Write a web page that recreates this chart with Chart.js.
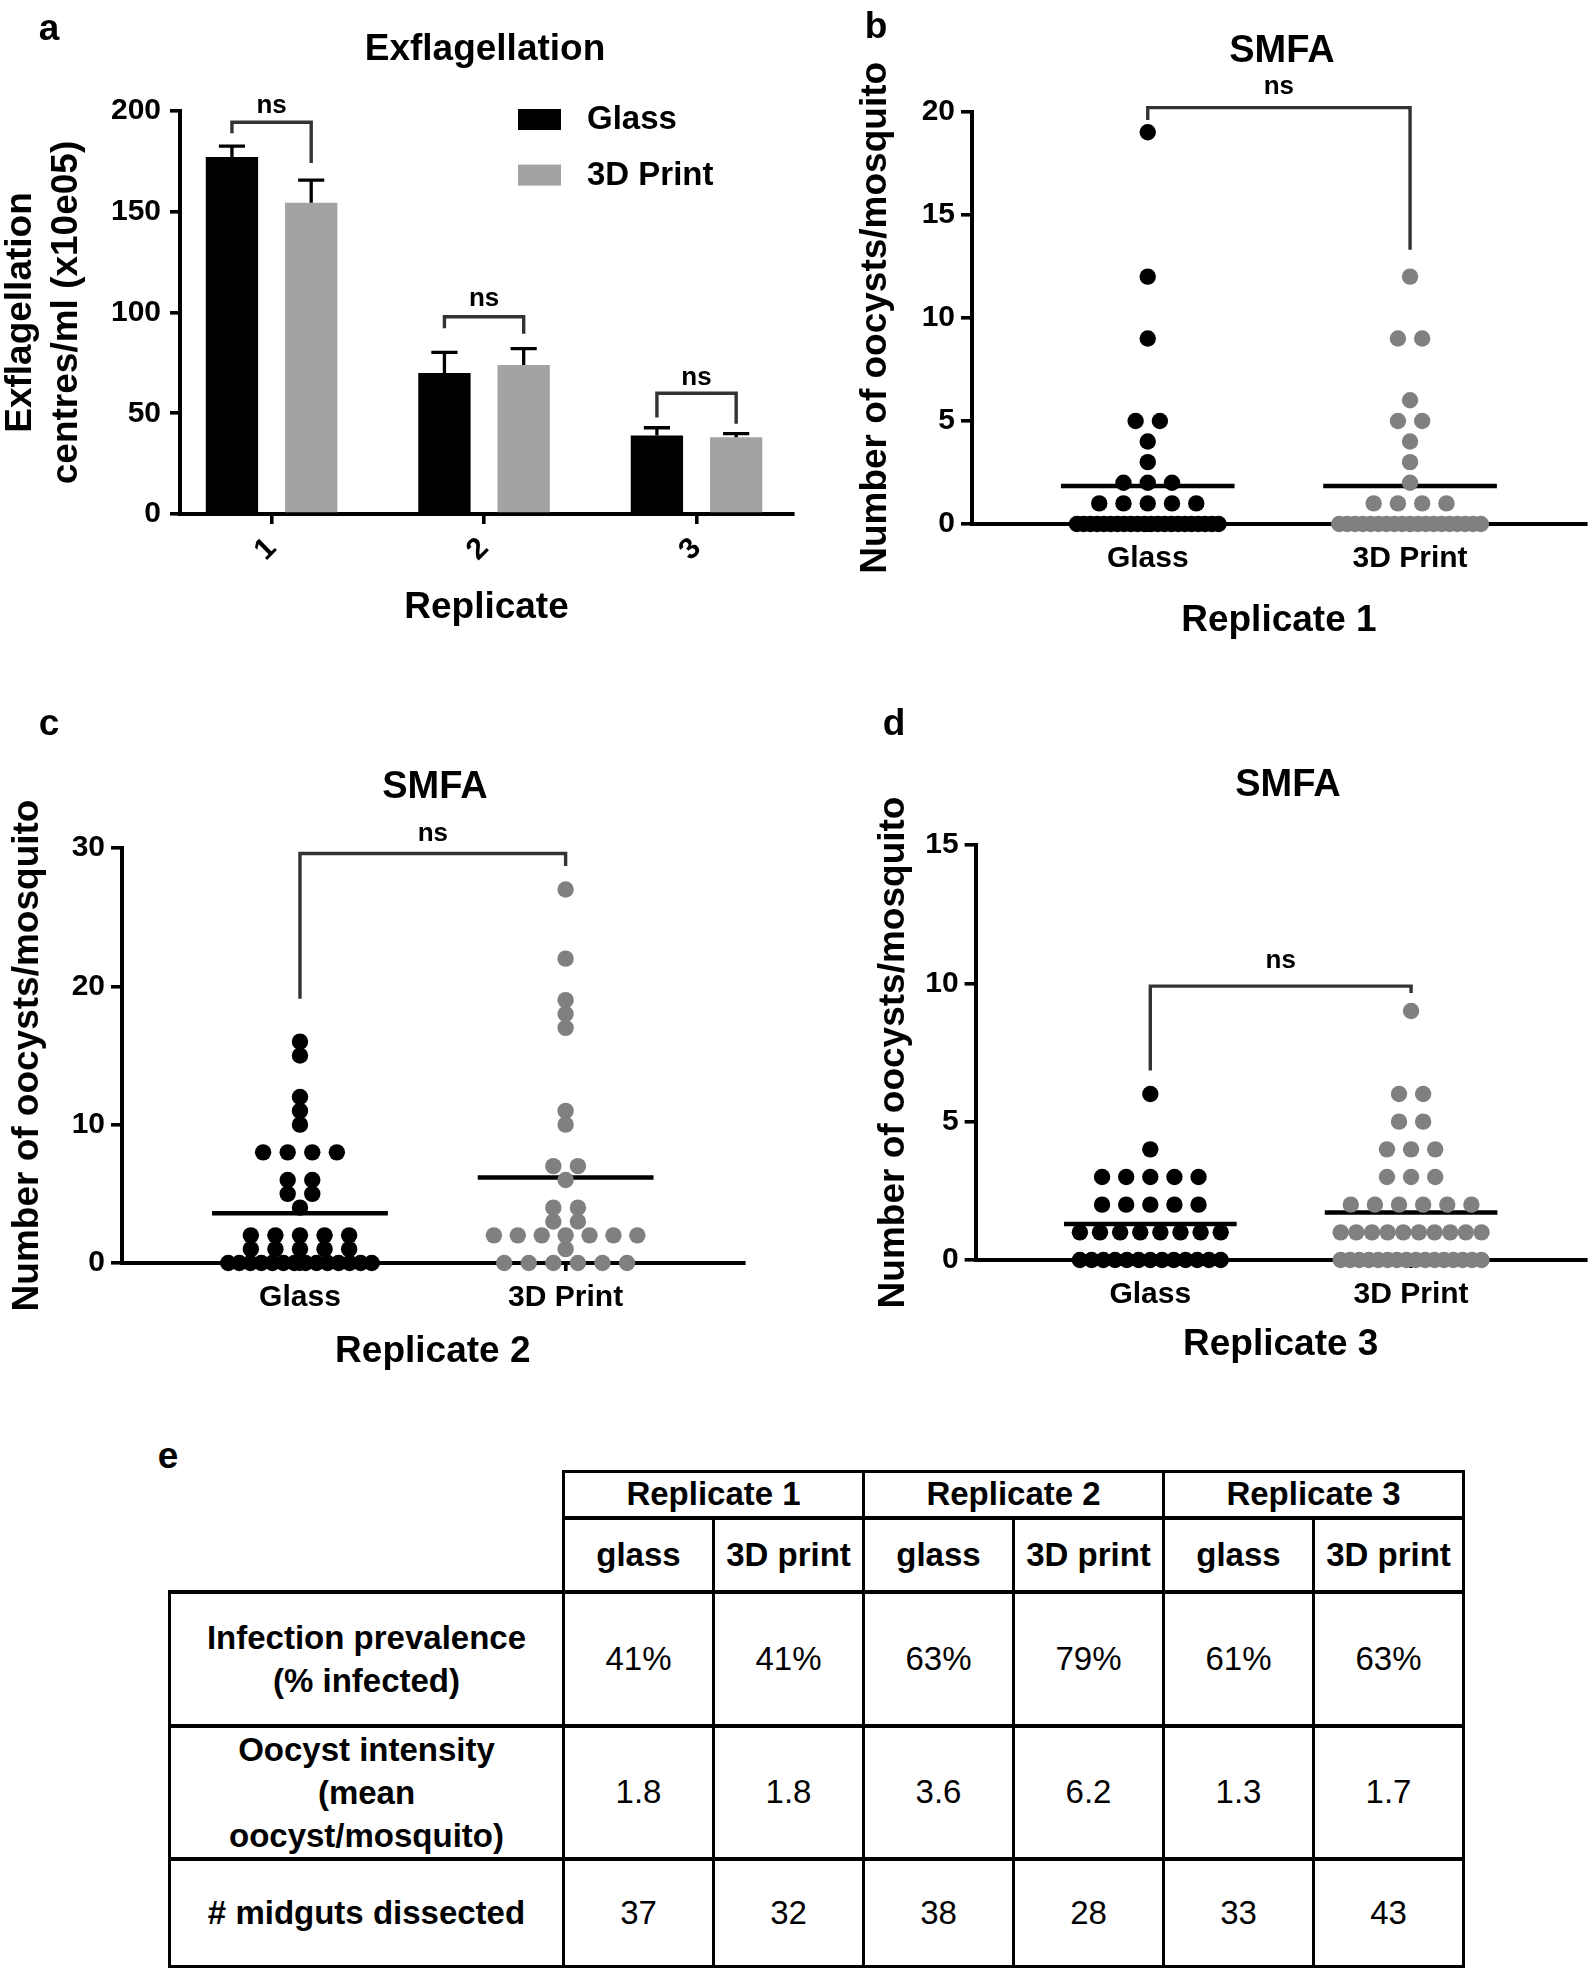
<!DOCTYPE html>
<html>
<head>
<meta charset="utf-8">
<script src="https://cdn.jsdelivr.net/npm/chart.js@4.4.1/dist/chart.umd.min.js"></script>
<style>
  body { margin: 0; background: #fff; width: 1594px; height: 1970px; position: relative; overflow: hidden;
         font-family: "Liberation Sans", Arial, Helvetica, sans-serif; color: #000; }
  .box { position: absolute; }
  .lbl { position: absolute; font-weight: bold; transform: translate(-50%, -50%); white-space: nowrap; line-height: 1; }
  canvas { display: block; }
  #tbl { position: absolute; left: 168px; top: 1470px; border-collapse: collapse; table-layout: fixed; }
  #tbl th, #tbl td { border: 3px solid #000; text-align: center; vertical-align: middle; padding: 0; font-size: 33px; }
  #tbl th { font-weight: bold; }
  #tbl td { font-weight: normal; }
  #tbl td.rowhead { font-weight: bold; line-height: 43px; }
  #tbl td.blank { border-top: none; border-left: none; }
  #tbl tr.data td { border-top-width: 4px; }
  #tbl tr.sub th { border-top-width: 4px; }
</style>
</head>
<body>

<div class="box" style="left:0;top:0"><canvas id="chartA" width="797" height="640"></canvas></div>
<div class="box" style="left:850px;top:0"><canvas id="chartB" width="744" height="650"></canvas></div>
<div class="box" style="left:0;top:700px"><canvas id="chartC" width="760" height="680"></canvas></div>
<div class="box" style="left:850px;top:700px"><canvas id="chartD" width="744" height="680"></canvas></div>

<div class="lbl" style="left:49px;top:27px;font-size:37px">a</div>
<div class="lbl" style="left:876px;top:25px;font-size:37px">b</div>
<div class="lbl" style="left:49px;top:722px;font-size:37px">c</div>
<div class="lbl" style="left:894px;top:722px;font-size:37px">d</div>
<div class="lbl" style="left:168px;top:1455px;font-size:37px">e</div>

<div class="lbl" style="left:485px;top:47px;font-size:37px">Exflagellation</div>
<div class="lbl" style="left:1282px;top:49px;font-size:38px">SMFA</div>
<div class="lbl" style="left:435px;top:785px;font-size:38px">SMFA</div>
<div class="lbl" style="left:1288px;top:783px;font-size:38px">SMFA</div>

<table id="tbl"></table>

<script>
const FONT = '"Liberation Sans", Arial, Helvetica, sans-serif';
Chart.defaults.font.family = FONT;
Chart.defaults.color = '#000';

// panel a - exflagellation centres per replicate
const replicates = ['1', '2', '3'];
const glassExfl = [177.2, 70.0, 38.9];
const glassExflErr = [5.4, 10.2, 3.9];
const printExfl = [154.5, 73.9, 38.1];
const printExflErr = [11.2, 8.2, 1.8];
// ns brackets (y values): top, end of left leg, end of right leg, label
const bracketTopA = [194.4, 97.9, 59.9];
const bracketLeftA = [189.0, 92.2, 47.9];
const bracketRightA = [174.2, 89.4, 44.8];
const nsLabelA = [202.7, 106.6, 67.5];

// panels b-d - oocysts per mosquito: value levels and number of mosquitoes at each
const groups = ['Glass', '3D Print'];
const rep1GlassLevels = [0, 1, 2, 3, 4, 5, 9, 12, 19];
const rep1GlassCounts = [22, 5, 3, 1, 1, 2, 1, 1, 1];
const rep1PrintLevels = [0, 1, 2, 3, 4, 5, 6, 9, 12];
const rep1PrintCounts = [19, 4, 1, 1, 1, 2, 1, 2, 1];
const rep2GlassLevels = [0, 1, 2, 4, 5, 6, 8, 10, 11, 12, 15, 16];
const rep2GlassCounts = [14, 5, 5, 1, 2, 2, 4, 1, 1, 1, 1, 1];
const rep2PrintLevels = [0, 1, 2, 3, 4, 6, 7, 10, 11, 17, 18, 19, 22, 27];
const rep2PrintCounts = [6, 1, 7, 2, 2, 1, 2, 1, 1, 1, 1, 1, 1, 1];
const rep3GlassLevels = [0, 1, 2, 3, 4, 6];
const rep3GlassCounts = [13, 8, 5, 5, 1, 1];
const rep3PrintLevels = [0, 1, 2, 3, 4, 5, 6, 9];
const rep3PrintCounts = [16, 10, 6, 3, 3, 2, 2, 1];
// ns brackets for b, c, d: [top, left leg end, right leg end, label]
const bracketB = [20.2, 19.6, 13.3, 21.2];
const bracketC = [29.6, 19.1, 28.7, 31.0];
const bracketD = [9.9, 6.85, 9.65, 10.8];

// panel e - table
const tableReps = ['Replicate 1', 'Replicate 2', 'Replicate 3'];
const tableGroups = ['glass', '3D print'];
const tableRowLabels = [['Infection prevalence', '(% infected)'], ['Oocyst intensity', '(mean', 'oocyst/mosquito)'], ['# midguts dissected']];
const prevalence = ['41%', '41%', '63%', '79%', '61%', '63%'];
const intensity = ['1.8', '1.8', '3.6', '6.2', '1.3', '1.7'];
const dissected = ['37', '32', '38', '28', '33', '43'];

const BLACK = '#000000';
const GREY_BAR = '#a3a3a3';
const GREY_DOT = '#808080';
const CP = 0.746, BP = 0.66;       // bar group width / bar width
const DOT_STEP = 0.0925;           // dot spacing in category units
const ROW_MAX = 0.54;              // widest a row of dots may get
const MEAN_HALF = 0.331;

function bold(size, lh) { return { family: FONT, size: size, weight: 'bold', lineHeight: lh || 1.2 }; }

function axisLine() { return { display: true, color: '#000', width: 4 }; }
function tickGrid(len) { return { drawOnChartArea: false, drawTicks: true, tickLength: len, color: '#000', lineWidth: 3.6, offset: false }; }

function bracketPlugin(list) {
  return {
    id: 'nsBrackets',
    afterDatasetsDraw(chart) {
      const { ctx, scales: { x, y } } = chart;
      ctx.save();
      list.forEach(b => {
        const x1 = x.getPixelForValue(b.x1), x2 = x.getPixelForValue(b.x2);
        const yt = y.getPixelForValue(b.top);
        ctx.strokeStyle = '#333333';
        ctx.lineWidth = 3.4;
        ctx.beginPath();
        ctx.moveTo(x1, y.getPixelForValue(b.left));
        ctx.lineTo(x1, yt);
        ctx.lineTo(x2, yt);
        ctx.lineTo(x2, y.getPixelForValue(b.right));
        ctx.stroke();
        ctx.fillStyle = '#000';
        ctx.font = 'bold 26px ' + FONT;
        ctx.textAlign = 'center';
        ctx.textBaseline = 'middle';
        ctx.fillText('ns', (x1 + x2) / 2, y.getPixelForValue(b.label));
      });
      ctx.restore();
    }
  };
}

// ---------- panel a ----------
const errorBars = {
  id: 'errorBars',
  afterDatasetsDraw(chart) {
    const { ctx, scales: { y } } = chart;
    const errs = [glassExflErr, printExflErr];
    ctx.save();
    ctx.strokeStyle = '#000';
    ctx.lineWidth = 3.3;
    errs.forEach((err, di) => {
      const ds = chart.data.datasets[di];
      chart.getDatasetMeta(di).data.forEach((bar, i) => {
        const p = bar.getProps(['x', 'y', 'width'], true);
        const top = y.getPixelForValue(ds.data[i].y + err[i]);
        ctx.beginPath();
        ctx.moveTo(p.x, p.y);
        ctx.lineTo(p.x, top);
        ctx.moveTo(p.x - p.width / 4, top);
        ctx.lineTo(p.x + p.width / 4, top);
        ctx.stroke();
      });
    });
    ctx.restore();
  }
};

const boxLegend = {
  id: 'boxLegend',
  afterDraw(chart) {
    const { ctx, chartArea } = chart;
    ctx.save();
    chart.data.datasets.forEach((ds, i) => {
      const bx = chartArea.left + 338, by = chartArea.top - 2 + i * 55.6;
      ctx.fillStyle = ds.backgroundColor;
      ctx.fillRect(bx, by, 43, 21);
      ctx.fillStyle = '#000';
      ctx.font = 'bold 33px ' + FONT;
      ctx.textAlign = 'left';
      ctx.textBaseline = 'middle';
      ctx.fillText(ds.label, bx + 69, by + 11);
    });
    ctx.restore();
  }
};

const bracketsA = replicates.map((r, i) => ({
  x1: i + 1 - CP / 4, x2: i + 1 + CP / 4,
  top: bracketTopA[i], left: bracketLeftA[i], right: bracketRightA[i], label: nsLabelA[i]
}));

new Chart(document.getElementById('chartA'), {
  type: 'bar',
  data: {
    datasets: [
      { label: 'Glass', data: glassExfl.map((v, i) => ({ x: i + 1, y: v })), backgroundColor: BLACK,
        categoryPercentage: CP, barPercentage: BP },
      { label: '3D Print', data: printExfl.map((v, i) => ({ x: i + 1, y: v })), backgroundColor: GREY_BAR,
        categoryPercentage: CP, barPercentage: BP }
    ]
  },
  options: {
    responsive: false, animation: false,
    layout: { padding: { left: 0, top: 111, right: 4, bottom: 0 } },
    plugins: { legend: { display: false }, tooltip: { enabled: false } },
    scales: {
      x: {
        type: 'linear', min: 0.569, max: 3.454, offset: false,
        afterBuildTicks: a => { a.ticks = replicates.map((r, i) => ({ value: i + 1 })); },
        afterFit: s => { s.height = 126; },
        ticks: { callback: v => replicates[v - 1], font: bold(30), minRotation: 45, maxRotation: 45, padding: 7 },
        grid: tickGrid(10), border: axisLine(),
        title: { display: true, text: 'Replicate', font: bold(37), padding: { top: 0, bottom: 9.8 } }
      },
      y: {
        min: 0, max: 200,
        ticks: { stepSize: 50, font: bold(30), padding: 9 },
        afterFit: s => { s.width = 180; },
        grid: tickGrid(10), border: axisLine(),
        title: { display: true, text: ['Exflagellation', 'centres/ml (x10e05)'], font: bold(37, 1.25), padding: { top: -2.6, bottom: 0 } }
      }
    }
  },
  plugins: [errorBars, boxLegend, bracketPlugin(bracketsA)]
});

// ---------- panels b, c, d ----------
function swarm(levels, counts, center) {
  const pts = [];
  levels.forEach((v, k) => {
    const n = counts[k];
    const width = Math.min((n - 1) * DOT_STEP, ROW_MAX);
    const gap = n > 1 ? width / (n - 1) : 0;
    for (let i = 0; i < n; i++) pts.push({ x: center - width / 2 + i * gap, y: v });
  });
  return pts;
}
function mean(levels, counts) {
  let s = 0, n = 0;
  levels.forEach((v, k) => { s += v * counts[k]; n += counts[k]; });
  return s / n;
}

function dotPanel(id, p) {
  const gm = mean(p.gLevels, p.gCounts), pm = mean(p.pLevels, p.pCounts);
  const dots = (data, color) => ({ type: 'scatter', data, backgroundColor: color, pointBackgroundColor: color,
    pointRadius: 8.2, pointBorderWidth: 0, pointHoverRadius: 8.2, clip: false });
  const meanLine = (c, m) => ({ type: 'line', data: [{ x: c - MEAN_HALF, y: m }, { x: c + MEAN_HALF, y: m }],
    borderColor: '#000', borderWidth: 4.5, pointRadius: 0, showLine: true, fill: false, clip: false });
  const b = p.bracket;
  new Chart(document.getElementById(id), {
    type: 'scatter',
    data: {
      datasets: [
        dots(swarm(p.gLevels, p.gCounts, 1), BLACK),
        dots(swarm(p.pLevels, p.pCounts, 2), GREY_DOT),
        meanLine(1, gm),
        meanLine(2, pm)
      ]
    },
    options: {
      responsive: false, animation: false,
      layout: { padding: { left: 0, top: p.padTop, right: p.padRight, bottom: 0 } },
      plugins: { legend: { display: false }, tooltip: { enabled: false } },
      scales: {
        x: {
          type: 'linear', min: 0.33, max: 2.67, offset: false,
          afterBuildTicks: a => { a.ticks = groups.map((g, i) => ({ value: i + 1 })); },
          afterFit: s => { s.height = p.xH; },
          ticks: { callback: v => groups[v - 1], font: bold(30), maxRotation: 0, padding: 9 },
          grid: tickGrid(8), border: axisLine(),
          title: { display: true, text: p.xTitle, font: bold(37), padding: { top: 0, bottom: p.xPad } }
        },
        y: {
          min: 0, max: p.yMax,
          ticks: { stepSize: p.yStep, font: bold(30), padding: 6 },
          afterFit: s => { s.width = p.yW; },
          grid: tickGrid(11), border: axisLine(),
          title: { display: true, text: 'Number of oocysts/mosquito', font: bold(37), padding: { top: p.yPad, bottom: 0 } }
        }
      }
    },
    plugins: [bracketPlugin([{ x1: 1, x2: 2, top: b[0], left: b[1], right: b[2], label: b[3] }])]
  });
}

dotPanel('chartB', { gLevels: rep1GlassLevels, gCounts: rep1GlassCounts, pLevels: rep1PrintLevels, pCounts: rep1PrintCounts,
  yMax: 20, yStep: 5, xTitle: 'Replicate 1', bracket: bracketB,
  padTop: 111.7, padRight: 0, yW: 122, xH: 126, yPad: 3.8, xPad: 6.8 });
dotPanel('chartC', { gLevels: rep2GlassLevels, gCounts: rep2GlassCounts, pLevels: rep2PrintLevels, pCounts: rep2PrintCounts,
  yMax: 30, yStep: 10, xTitle: 'Replicate 2', bracket: bracketC,
  padTop: 148, padRight: 16.4, yW: 122, xH: 117, yPad: 5.8, xPad: 6.1 });
dotPanel('chartD', { gLevels: rep3GlassLevels, gCounts: rep3GlassCounts, pLevels: rep3PrintLevels, pCounts: rep3PrintCounts,
  yMax: 15, yStep: 5, xTitle: 'Replicate 3', bracket: bracketD,
  padTop: 145, padRight: 0, yW: 125.6, xH: 120, yPad: 21.8, xPad: 12.8 });

// ---------- panel e: table ----------
(function buildTable() {
  let html = '<colgroup><col style="width:394px">' + '<col style="width:150px">'.repeat(6) + '</colgroup>';
  html += '<tr style="height:46px"><td rowspan="2" class="blank"></td>' +
    tableReps.map(r => '<th colspan="2">' + r + '</th>').join('') + '</tr>';
  html += '<tr class="sub" style="height:74px">' +
    tableReps.map(() => tableGroups.map(g => '<th>' + g + '</th>').join('')).join('') + '</tr>';
  const rows = [prevalence, intensity, dissected];
  const heights = [134, 132, 108];
  rows.forEach((vals, r) => {
    html += '<tr class="data" style="height:' + heights[r] + 'px"><td class="rowhead">' + tableRowLabels[r].join('<br>') + '</td>' +
      vals.map(v => '<td>' + v + '</td>').join('') + '</tr>';
  });
  document.getElementById('tbl').innerHTML = html;
})();
</script>
</body>
</html>
